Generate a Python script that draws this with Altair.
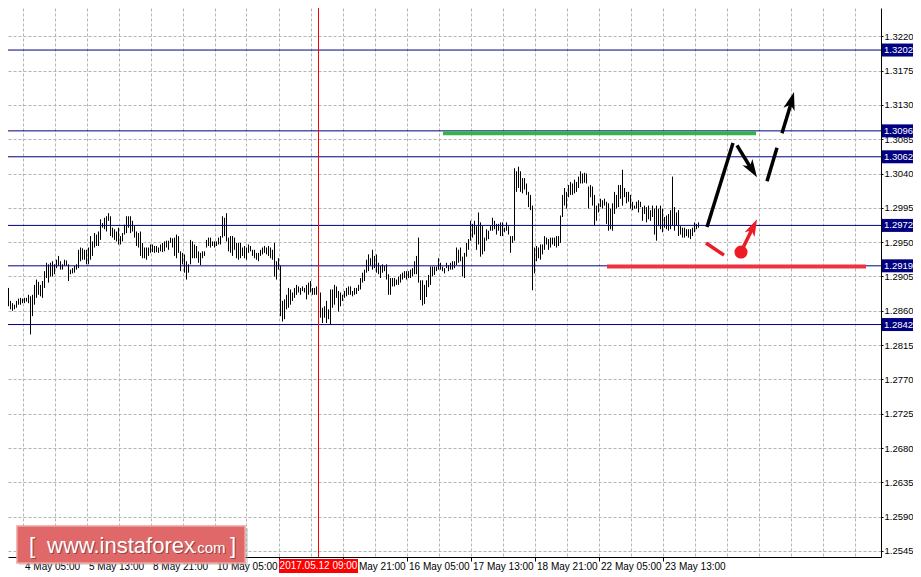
import altair as alt
import pandas as pd

# ---------------- data (H1 bars, high / low) ----------------
highs = [
    1.2912, 1.2915, 1.2915, 1.2922, 1.2890, 1.2873, 1.2870, 1.2868, 1.2873, 1.2876,
    1.2877, 1.2876, 1.2877, 1.2877, 1.2881, 1.2879, 1.2881, 1.2894, 1.2901, 1.2898,
    1.2894, 1.2899, 1.2912, 1.2923, 1.2921, 1.2923, 1.2925, 1.2921, 1.2927, 1.2932,
    1.2925, 1.2921, 1.2927, 1.2926, 1.2921, 1.2914, 1.2916, 1.2919, 1.2921, 1.2940,
    1.2943, 1.2942, 1.2940, 1.2940, 1.2943, 1.2958, 1.2951, 1.2962, 1.2960, 1.2964,
    1.2980, 1.2975, 1.2982, 1.2984, 1.2988, 1.2984, 1.2969, 1.2967, 1.2964, 1.2969,
    1.2958, 1.2962, 1.2973, 1.2984, 1.2984, 1.2984, 1.2978, 1.2971, 1.2964, 1.2962,
    # section 2
    1.2964, 1.2949, 1.2943, 1.2943, 1.2943, 1.2947, 1.2947, 1.2945, 1.2945, 1.2943,
    1.2947, 1.2949, 1.2951, 1.2952, 1.2952, 1.2956, 1.2955, 1.2956, 1.2960, 1.2958,
    1.2938, 1.2936, 1.2934, 1.2925, 1.2921, 1.2953, 1.2951, 1.2947, 1.2945, 1.2938,
    1.2936, 1.2938, 1.2938, 1.2953, 1.2956, 1.2956, 1.2951, 1.2951, 1.2951, 1.2956,
    1.2958, 1.2984, 1.2982, 1.2988, 1.2956, 1.2958, 1.2958, 1.2956, 1.2949, 1.2949,
    1.2949, 1.2943, 1.2945, 1.2943, 1.2947, 1.2945, 1.2940, 1.2940, 1.2936, 1.2936,
    1.2940, 1.2943, 1.2945, 1.2943, 1.2945, 1.2943, 1.2940, 1.2949, 1.2925, 1.2929,
    # section 3
    1.2919, 1.2873, 1.2875, 1.2881, 1.2890, 1.2888, 1.2884, 1.2890, 1.2894, 1.2892,
    1.2890, 1.2892, 1.2890, 1.2894, 1.2897, 1.2899, 1.2890, 1.2890, 1.2892, 1.2894,
    1.2884, 1.2864, 1.2866, 1.2873, 1.2862, 1.2888, 1.2888, 1.2894, 1.2892, 1.2886,
    1.2884, 1.2881, 1.2886, 1.2890, 1.2892, 1.2892, 1.2886, 1.2890, 1.2890, 1.2894,
    1.2903, 1.2910, 1.2914, 1.2927, 1.2934, 1.2929, 1.2940, 1.2932, 1.2934, 1.2923,
    1.2919, 1.2921, 1.2919, 1.2921, 1.2908, 1.2903, 1.2903, 1.2903, 1.2901, 1.2905,
    1.2908, 1.2910, 1.2912, 1.2912, 1.2912, 1.2914, 1.2916, 1.2925, 1.2932, 1.2956,
    # section 4
    1.2900, 1.2900, 1.2894, 1.2900, 1.2907, 1.2918, 1.2918, 1.2918, 1.2918, 1.2929,
    1.2923, 1.2918, 1.2916, 1.2923, 1.2920, 1.2923, 1.2925, 1.2925, 1.2943, 1.2940,
    1.2943, 1.2931, 1.2936, 1.2949, 1.2954, 1.2978, 1.2974, 1.2978, 1.2971, 1.2989,
    1.2976, 1.2971, 1.2956, 1.2967, 1.2965, 1.2971, 1.2982, 1.2978, 1.2974, 1.2974,
    1.2976, 1.2976, 1.2969, 1.2976, 1.2971, 1.2958, 1.2958, 1.3047, 1.3043, 1.3049,
    1.3043, 1.3034, 1.3034, 1.3027, 1.3016, 1.3012, 1.2998, 1.2943, 1.2945, 1.2943,
    1.2947, 1.2947, 1.2958, 1.2956, 1.2954, 1.2956, 1.2956, 1.2956, 1.2958, 1.2958,
    # section 5
    1.2985, 1.3012, 1.3021, 1.3016, 1.3025, 1.3029, 1.3027, 1.3032, 1.3029, 1.3036,
    1.3043, 1.3040, 1.3041, 1.3040, 1.3023, 1.3025, 1.3023, 1.3012, 1.2998, 1.3001,
    1.3007, 1.3005, 1.3007, 1.3003, 1.3001, 1.2994, 1.3001, 1.3016, 1.3012, 1.3025,
    1.3025, 1.3045, 1.3021, 1.3016, 1.3016, 1.3012, 1.3003, 1.2998, 1.3003, 1.3005,
    1.3003, 1.2996, 1.2998, 1.2996, 1.2998, 1.2992, 1.2998, 1.2994, 1.2998, 1.2994,
    1.2998, 1.2994, 1.2983, 1.2985, 1.2987, 1.2992, 1.3036, 1.2996, 1.2989, 1.2992,
    1.2971, 1.2969, 1.2969, 1.2967, 1.2967, 1.2967, 1.2969, 1.2976, 1.2974, 1.2976,
]
lows = [
    1.2894, 1.2903, 1.2904, 1.2880, 1.2866, 1.2862, 1.2860, 1.2862, 1.2864, 1.2868,
    1.2868, 1.2870, 1.2870, 1.2872, 1.2870, 1.2829, 1.2853, 1.2868, 1.2877, 1.2881,
    1.2879, 1.2877, 1.2890, 1.2903, 1.2897, 1.2905, 1.2905, 1.2908, 1.2916, 1.2919,
    1.2914, 1.2914, 1.2919, 1.2919, 1.2899, 1.2908, 1.2909, 1.2910, 1.2914, 1.2916,
    1.2925, 1.2927, 1.2927, 1.2921, 1.2921, 1.2927, 1.2932, 1.2943, 1.2945, 1.2945,
    1.2953, 1.2969, 1.2967, 1.2964, 1.2978, 1.2958, 1.2956, 1.2953, 1.2951, 1.2947,
    1.2947, 1.2951, 1.2960, 1.2962, 1.2969, 1.2962, 1.2964, 1.2956, 1.2945, 1.2943,
    # section 2
    1.2932, 1.2929, 1.2929, 1.2927, 1.2932, 1.2936, 1.2937, 1.2936, 1.2937, 1.2936,
    1.2938, 1.2937, 1.2938, 1.2943, 1.2940, 1.2949, 1.2943, 1.2932, 1.2929, 1.2936,
    1.2912, 1.2921, 1.2910, 1.2901, 1.2910, 1.2921, 1.2929, 1.2929, 1.2929, 1.2923,
    1.2920, 1.2929, 1.2932, 1.2943, 1.2945, 1.2943, 1.2945, 1.2943, 1.2945, 1.2947,
    1.2947, 1.2956, 1.2958, 1.2951, 1.2938, 1.2936, 1.2932, 1.2940, 1.2929, 1.2927,
    1.2929, 1.2932, 1.2929, 1.2927, 1.2936, 1.2938, 1.2932, 1.2929, 1.2927, 1.2925,
    1.2932, 1.2934, 1.2936, 1.2934, 1.2932, 1.2929, 1.2927, 1.2905, 1.2901, 1.2914,
    # section 3
    1.2853, 1.2846, 1.2849, 1.2862, 1.2864, 1.2868, 1.2873, 1.2877, 1.2881, 1.2884,
    1.2881, 1.2886, 1.2884, 1.2875, 1.2881, 1.2884, 1.2881, 1.2881, 1.2881, 1.2881,
    1.2851, 1.2844, 1.2851, 1.2844, 1.2849, 1.2842, 1.2864, 1.2868, 1.2877, 1.2859,
    1.2866, 1.2873, 1.2877, 1.2879, 1.2881, 1.2881, 1.2879, 1.2881, 1.2882, 1.2886,
    1.2888, 1.2897, 1.2899, 1.2910, 1.2912, 1.2919, 1.2914, 1.2916, 1.2910, 1.2908,
    1.2903, 1.2910, 1.2912, 1.2901, 1.2881, 1.2881, 1.2892, 1.2892, 1.2894, 1.2894,
    1.2897, 1.2901, 1.2903, 1.2901, 1.2903, 1.2903, 1.2905, 1.2908, 1.2908, 1.2897,
    # section 4
    1.2874, 1.2867, 1.2869, 1.2878, 1.2891, 1.2894, 1.2905, 1.2907, 1.2912, 1.2914,
    1.2914, 1.2912, 1.2909, 1.2916, 1.2912, 1.2914, 1.2914, 1.2916, 1.2920, 1.2923,
    1.2925, 1.2905, 1.2903, 1.2931, 1.2940, 1.2952, 1.2956, 1.2960, 1.2940, 1.2947,
    1.2931, 1.2934, 1.2938, 1.2952, 1.2954, 1.2965, 1.2965, 1.2967, 1.2960, 1.2965,
    1.2958, 1.2958, 1.2963, 1.2965, 1.2960, 1.2936, 1.2949, 1.2952, 1.3016, 1.3021,
    1.3016, 1.3014, 1.3019, 1.3012, 1.2996, 1.2992, 1.2887, 1.2909, 1.2925, 1.2929,
    1.2927, 1.2934, 1.2940, 1.2947, 1.2940, 1.2943, 1.2947, 1.2945, 1.2943, 1.2945,
    # section 5
    1.2949, 1.2983, 1.2998, 1.2994, 1.3009, 1.3012, 1.3012, 1.3014, 1.3016, 1.3021,
    1.3027, 1.3027, 1.3028, 1.3027, 1.2994, 1.3009, 1.2998, 1.2972, 1.2978, 1.2989,
    1.2996, 1.2994, 1.2998, 1.2974, 1.2965, 1.2967, 1.2965, 1.2987, 1.2994, 1.2996,
    1.3007, 1.2998, 1.3009, 1.3001, 1.3003, 1.2994, 1.2992, 1.2994, 1.2994, 1.2989,
    1.2996, 1.2978, 1.2987, 1.2976, 1.2980, 1.2978, 1.2983, 1.2960, 1.2952, 1.2971,
    1.2967, 1.2963, 1.2969, 1.2967, 1.2965, 1.2967, 1.2972, 1.2965, 1.2972, 1.2958,
    1.2960, 1.2956, 1.2956, 1.2958, 1.2956, 1.2954, 1.2958, 1.2963, 1.2967, 1.2969,
]

y_ticks = [1.2545, 1.2590, 1.2635, 1.2680, 1.2725, 1.2770, 1.2815, 1.2860,
           1.2905, 1.2950, 1.2995, 1.3040, 1.3085, 1.3130, 1.3175, 1.3220]
levels = [1.3202, 1.3096, 1.3062, 1.2972, 1.2919, 1.2842]
level_labels = ["1.3202", "1.3096", "1.3062", "1.2972", "1.2919", "1.2842"]

tick_index = [11, 43, 75, 107, 139, 171, 203, 235, 267, 299, 331]
tick_labels = ["4 May 05:00", "5 May 13:00", "8 May 21:00", "10 May 05:00",
               "11 May 13:00", "12 May 21:00", "16 May 05:00", "17 May 13:00",
               "18 May 21:00", "22 May 05:00", "23 May 13:00"]
cursor_index = [159]
cursor_label = ["2017.05.12 09:00"]

# analyst drawings (bar index, price)
green_seg = {"i1": [221.25], "i2": [377.75], "p": [1.3093]}
red_seg = {"i1": [303.25], "i2": [432.75], "p": [1.2918]}
black_seg_id = ["a", "a", "b", "b", "c", "c", "d", "d"]
black_seg_i = [353.25, 366.25, 368.25, 375.25, 388.25, 383.25, 390.75, 395.75]
black_seg_p = [1.2970, 1.3080, 1.3077, 1.3047, 1.3074, 1.3030, 1.3093, 1.3136]
black_head_i = [378.25, 396.75]
black_head_p = [1.3035, 1.3147]
black_head_ang = [148, 16]
red_seg_id = ["e", "e", "f", "f"]
red_seg_i = [352.75, 361.75, 370.25, 376.5]
red_seg_p = [1.2949, 1.2933, 1.2937, 1.2971]
red_dot = {"i": [370.25], "p": [1.2937]}
red_head = {"i": [378.25], "p": [1.2980], "ang": [26]}

# ---------------- chart ----------------
W, H = 873, 549
FONT = "Liberation Sans"
NAVY = "#000080"

x_scale = alt.Scale(domain=[3.75, 440.25], nice=False, zero=False)
y_scale = alt.Scale(domain=[1.253713, 1.325713], nice=False, zero=False)

idx_js = "[" + ",".join(str(v) for v in tick_index) + "]"
lab_js = "[" + ",".join("'" + s + "'" for s in tick_labels) + "]"
label_expr = f"indexof({idx_js}, datum.value) >= 0 ? {lab_js}[indexof({idx_js}, datum.value)] : ''"

x_axis = alt.Axis(
    values=list(range(11, 440, 16)), labelExpr=label_expr, title=None,
    grid=True, gridColor="#b4b4b4", gridDash=[3, 2], gridWidth=1,
    domainColor="black", domainWidth=1, tickColor="black", tickSize=4,
    tickOpacity={"condition": {"test": f"indexof({idx_js}, datum.value) >= 0", "value": 1}, "value": 0},
    labelAlign="left", labelBaseline="top", labelPadding=0, labelOffset=2,
    labelFlush=False, labelOverlap=False, labelFont=FONT, labelFontSize=10,
    labelColor="black",
)
y_axis = alt.Axis(
    orient="right", values=y_ticks, format=".4f", title=None,
    grid=True, gridColor="#b4b4b4", gridDash=[3, 2], gridWidth=1,
    domainColor="black", domainWidth=1, tickColor="black", tickSize=2,
    labelPadding=1, labelFlush=False, labelOverlap=False, labelFont=FONT,
    labelFontSize=9.5, labelColor="black",
)

bars_df = pd.DataFrame({"i": list(range(len(highs))), "high": highs, "low": lows})
X = lambda f: alt.X(f, scale=x_scale, axis=x_axis)
Y = lambda f: alt.Y(f, scale=y_scale, axis=y_axis)

bars = alt.Chart(bars_df).mark_rule(color="black", strokeWidth=1, clip=True).encode(
    x=X("i:Q"), y=Y("low:Q"), y2="high:Q",
)

lev_df = pd.DataFrame({"p": levels, "lab": level_labels})
level_lines = alt.Chart(lev_df).mark_rule(color=NAVY, strokeWidth=1).encode(y=Y("p:Q"))

cursor_df = pd.DataFrame({"i": cursor_index, "lab": cursor_label})
cursor_line = alt.Chart(cursor_df).mark_rule(color="#ff0000", strokeWidth=1).encode(x=X("i:Q"))

green = alt.Chart(pd.DataFrame(green_seg)).mark_rule(color="#34b34a", strokeWidth=4, strokeCap="butt").encode(
    x=X("i1:Q"), x2="i2:Q", y=Y("p:Q"))
red_level = alt.Chart(pd.DataFrame(red_seg)).mark_rule(color="#ee3340", strokeWidth=4, strokeCap="butt").encode(
    x=X("i1:Q"), x2="i2:Q", y=Y("p:Q"))

blk_df = pd.DataFrame({"seg": black_seg_id, "i": black_seg_i, "p": black_seg_p,
                       "o": list(range(len(black_seg_id)))})
black_lines = alt.Chart(blk_df).mark_line(color="black", strokeWidth=3.5, strokeCap="butt").encode(
    x=X("i:Q"), y=Y("p:Q"), detail="seg:N", order="o:Q")

HEAD = "M0,0L0.55,1.7L0,1.25L-0.55,1.7Z"
bh_df = pd.DataFrame({"i": black_head_i, "p": black_head_p, "ang": black_head_ang})
black_heads = alt.Chart(bh_df).mark_point(shape=HEAD, filled=True, size=450, color="black", opacity=1,
                                          strokeWidth=0).encode(
    x=X("i:Q"), y=Y("p:Q"), angle=alt.Angle("ang:Q", scale=None))

rs_df = pd.DataFrame({"seg": red_seg_id, "i": red_seg_i, "p": red_seg_p, "o": list(range(len(red_seg_id)))})
red_lines = alt.Chart(rs_df).mark_line(color="#ed1c24", strokeWidth=3.5, strokeCap="butt").encode(
    x=X("i:Q"), y=Y("p:Q"), detail="seg:N", order="o:Q")
red_dot_l = alt.Chart(pd.DataFrame(red_dot)).mark_point(shape="circle", filled=True, size=170, color="#ed1c24",
                                                        opacity=1).encode(x=X("i:Q"), y=Y("p:Q"))
red_head_l = alt.Chart(pd.DataFrame(red_head)).mark_point(shape=HEAD, filled=True, size=400, color="#ed1c24",
                                                          opacity=1, strokeWidth=0).encode(
    x=X("i:Q"), y=Y("p:Q"), angle=alt.Angle("ang:Q", scale=None))

# price labels of the levels on the right scale
lev_box = alt.Chart(lev_df).mark_rule(color=NAVY, strokeWidth=13, strokeCap="butt", clip=False).encode(
    x=alt.value(W + 1), x2=alt.value(W + 33), y=Y("p:Q"))
lev_text = alt.Chart(lev_df).mark_text(color="white", align="left", baseline="middle", font=FONT,
                                       fontSize=9.5, clip=False).encode(
    x=alt.value(W + 3), y=Y("p:Q"), text="lab:N")

# date label of the red cursor on the time scale
date_box = alt.Chart(cursor_df).transform_calculate(
    a="datum.i - 19.75", b="datum.i + 19.75").mark_rect(color="#ff0000", clip=False).encode(
    x=X("a:Q"), x2="b:Q", y=alt.value(H + 2), y2=alt.value(H + 16))
date_text = alt.Chart(cursor_df).mark_text(color="white", align="center", baseline="middle", font=FONT,
                                           fontSize=10, clip=False).encode(
    x=X("i:Q"), y=alt.value(H + 9), text="lab:N")

# watermark
one = pd.DataFrame({"k": [0]})
wm_shadow = alt.Chart(one).mark_rect(color="#9a9a9a", opacity=0.35, clip=False).encode(
    x=alt.value(11), x2=alt.value(240), y=alt.value(520), y2=alt.value(557))
wm_rect = alt.Chart(one).mark_rect(color="#e06868", stroke="#eea2a2", strokeWidth=1.5, clip=False).encode(
    x=alt.value(9), x2=alt.value(237), y=alt.value(518), y2=alt.value(555))


def wm_text(txt, x, size):
    sh = alt.Chart(one).mark_text(text=txt, color="#6a2a2a", opacity=0.6, align="left", baseline="alphabetic",
                                  font=FONT, fontSize=size, clip=False).encode(
        x=alt.value(x + 1), y=alt.value(546))
    fg = alt.Chart(one).mark_text(text=txt, color="white", align="left", baseline="alphabetic",
                                  font=FONT, fontSize=size, clip=False).encode(
        x=alt.value(x), y=alt.value(545))
    return [sh, fg]


wm = wm_text("[", 21, 22) + wm_text("www.instaforex", 39, 22) + wm_text(".com", 185, 15) + wm_text("]", 222, 22)

chart = alt.layer(
    bars, level_lines, cursor_line, green, red_level, black_lines, black_heads,
    red_lines, red_dot_l, red_head_l, lev_box, lev_text, date_box, date_text,
    wm_shadow, wm_rect, *wm,
).properties(
    width=W, height=H, background="white",
    autosize=alt.AutoSizeParams(type="none"),
    padding={"left": 0, "top": 0, "right": 32, "bottom": 20},
).configure_view(stroke=None)

chart.save("out.html", embed_options={"renderer": "svg", "actions": False})
